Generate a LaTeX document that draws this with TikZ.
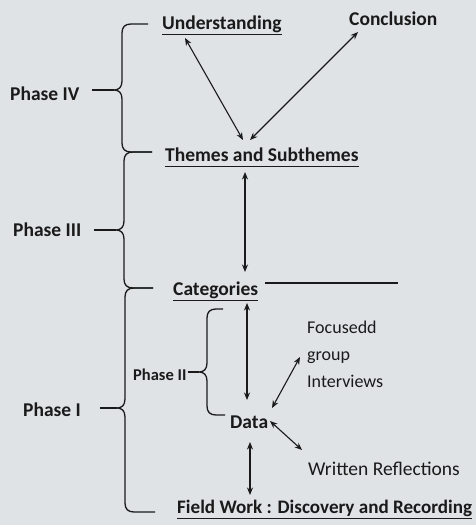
\documentclass[tikz,border=0pt]{standalone}
\usepackage{fontspec}
\setmainfont{Carlito}
\usetikzlibrary{arrows.meta,calc}
\definecolor{paper}{HTML}{DFE3E6}
\definecolor{ink}{HTML}{1A1A1A}
\tikzset{
  lab/.style={inner sep=0pt, anchor=base west, text=ink, font=\fontsize{19.5}{23}\selectfont\bfseries},
  labreg/.style={lab, font=\fontsize{19.5}{23}\selectfont},
  ul/.style={draw=ink, line width=1.6pt},
  arr/.style={draw=ink, line width=1.1pt, {Stealth[length=7.5pt,width=6pt]}-{Stealth[length=7.5pt,width=6pt]}},
  bracestyle/.style={draw=ink, line width=1.3pt},
  plain/.style={draw=ink, line width=1.2pt},
}
% #1 x, #2 ytop, #3 ytip, #4 ybot, #5 top end x, #6 bottom end x, #7 tip x, #8 tip name
\newcommand{\mybrace}[8]{%
  \draw[bracestyle] (#5,#2) -- ({#1+9},#2) .. controls ({#1+3},#2) and (#1,{#2+3}) .. (#1,{#2+9})
    -- (#1,{#3-9}) .. controls (#1,{#3-3}) and ({#1-3},#3) .. (#7,#3)
    .. controls ({#1-3},#3) and (#1,{#3+3}) .. (#1,{#3+9})
    -- (#1,{#4-9}) .. controls (#1,{#4-3}) and ({#1+3},#4) .. ({#1+9},#4) -- (#6,#4);
  \coordinate (#8) at (#7,#3);}
\begin{document}
\begin{tikzpicture}[x=1pt,y=-1pt]
\useasboundingbox (0,0) rectangle (476,525);
\fill[paper] (0,0) rectangle (476,525);

% labels
\node[lab] (und) at (162,29) {Understanding};
\node[lab] (con) at (349,25) {Conclusion};
\node[lab] (p4) at (10,100) {Phase IV};
\node[lab] (thm) at (165,161) {Themes and Subthemes};
\node[lab] (p3) at (13,236) {Phase III};
\node[lab] (cat) at (173,295) {Categories};
\node[lab, font=\fontsize{16.5}{20}\selectfont\bfseries] (p2) at (133,380) {Phase II};
\node[lab] (p1) at (23,416) {Phase I};
\node[lab] (data) at (230,428) {Data};
\node[labreg, anchor=west, align=left, font=\fontsize{18}{27}\selectfont] (foc) at (307,354) {Focusedd\\group\\Interviews};
\node[labreg] (wr) at (308,475) {Written Reflections};
\node[lab, font=\fontsize{19.1}{23}\selectfont\bfseries] (fw) at (177,513) {Field Work : Discovery and Recording};

% underlines
\foreach \n in {und,thm,cat,fw}
  \draw[ul] ([yshift=-5.5pt]\n.base west) -- ([yshift=-5.5pt]\n.base east);

% braces
\mybrace{122}{24}{90}{152}{148}{152}{114}{t4}
\mybrace{124}{152}{230}{288}{152}{153}{116}{t3}
\mybrace{125}{288}{408}{512}{153}{155}{117}{t1}
\mybrace{207}{309}{372}{415}{223}{225}{199}{t2}

% dashes from phase labels to brace tips
\draw[bracestyle] ([xshift=12pt]t4 -| p4.east) -- (t4);
\draw[bracestyle] ([xshift=13pt]t3 -| p3.east) -- (t3);
\draw[bracestyle] ([xshift=19pt]t1 -| p1.east) -- (t1);
\draw[bracestyle] ([xshift=1pt]t2 -| p2.east) -- (t2);

% arrows
\draw[arr] ([xshift=23pt,yshift=-9pt]und.base west) -- ([xshift=78pt,yshift=21pt]thm.base west);
\draw[arr] ([xshift=9pt,yshift=-7pt]con.base west) -- ([xshift=85pt,yshift=21pt]thm.base west);
\draw[arr] ([xshift=80pt,yshift=-11pt]thm.base west) -- ([xshift=72pt,yshift=23pt]cat.base west);
\draw[arr] ([xshift=74pt,yshift=-8pt]cat.base west) -- ([xshift=17pt,yshift=28pt]data.base west);
\draw[arr] ([xshift=42pt,yshift=20pt]data.base west) -- ([xshift=-7pt,yshift=-3pt]foc.west);
\draw[arr] ([xshift=40pt,yshift=7pt]data.base west) -- ([xshift=-6pt,yshift=25pt]wr.base west);
\draw[arr] ([xshift=20pt,yshift=-14pt]data.base west) -- ([xshift=73pt,yshift=18pt]fw.base west);

% line beside Categories
\coordinate (catend) at (398,283);
\draw[plain] ([xshift=92pt,yshift=12pt]cat.base west) -- (catend);
\end{tikzpicture}
\end{document}
